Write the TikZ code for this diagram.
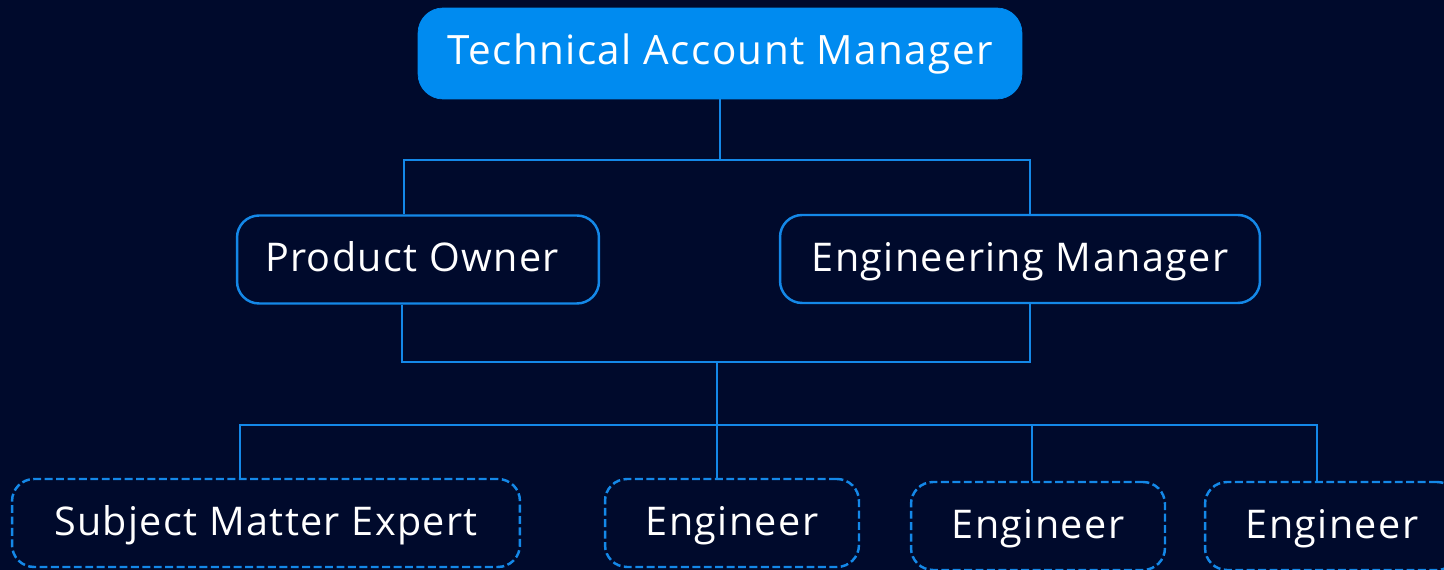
\documentclass[tikz,border=0pt]{standalone}
\usepackage{fontspec}
\setmainfont{Open Sans}
\newfontfamily\boxfont[LetterSpace=3.5]{Open Sans}
\usepackage{tikz}

\definecolor{navybg}{HTML}{000A2C}
\definecolor{tamblue}{HTML}{008BF0}
\definecolor{linkblue}{HTML}{1488E8}

\tikzset{
  tambox/.style={rectangle,rounded corners=0.5cm,fill=tamblue,draw=tamblue,text=white,
    minimum width=12.08cm,minimum height=1.82cm,inner sep=0pt,text height=0.56cm,text depth=0.1cm,
    font=\boxfont\fontsize{23}{27}\selectfont},
  rolebox/.style={rectangle,rounded corners=0.44cm,draw=linkblue,line width=1.4pt,fill=navybg,
    text=white,minimum height=1.76cm,inner sep=0pt,text height=0.6cm,text depth=0.1cm,
    font=\boxfont\fontsize{22.5}{27}\selectfont},
  staffbox/.style={rolebox,dash pattern=on 4.5pt off 2pt},
  link/.style={draw=linkblue,line width=1.4pt}
}

\begin{document}
\begin{tikzpicture}[x=0.02cm,y=-0.02cm]
	\fill[navybg] (0,0) rectangle (1444,570);
	\useasboundingbox (0,0) rectangle (1444,570);
	% junctions
	\coordinate (hub1) at (717,160);
	\coordinate (hub2) at (717,362);
	\coordinate (hub3) at (717,425);
	% boxes
	\node[tambox] (tam) at (720,53.5) {Technical Account Manager};
	\node[rolebox,minimum width=7.24cm] (po) at (418,259.5) {\hspace*{-0.24cm}Product Owner};
	\node[rolebox,minimum width=9.6cm] (em) at (1020,259) {Engineering Manager};
	\node[staffbox,minimum width=10.16cm] (sme) at (266,523) {Subject Matter Expert};
	\node[staffbox,minimum width=5.08cm] (eng1) at (732,523) {Engineer};
	\node[staffbox,minimum width=5.08cm] (eng2) at (1038,526) {Engineer};
	\node[staffbox,minimum width=5.08cm] (eng3) at (1332,526) {Engineer};
	% links
	\draw[link] (tam.south) -- (tam.south |- hub1);
	\draw[link] ([xshift=-0.28cm]po.north) |- (hub1) -| ([xshift=0.2cm]em.north);
	\draw[link] ([xshift=-0.32cm]po.south) |- (hub2) -| ([xshift=0.2cm]em.south);
	\draw[link] (hub2) -- (hub3);
	\draw[link] ([xshift=-0.52cm]sme.north) |- (hub3) -| ([xshift=-0.3cm]eng3.north);
	\draw[link] (hub3) -- (hub3 |- eng1.north);
	\draw[link] ([xshift=-0.12cm]eng2.north) -- ([xshift=-0.12cm]eng2.north |- hub3);
\end{tikzpicture}
\end{document}
